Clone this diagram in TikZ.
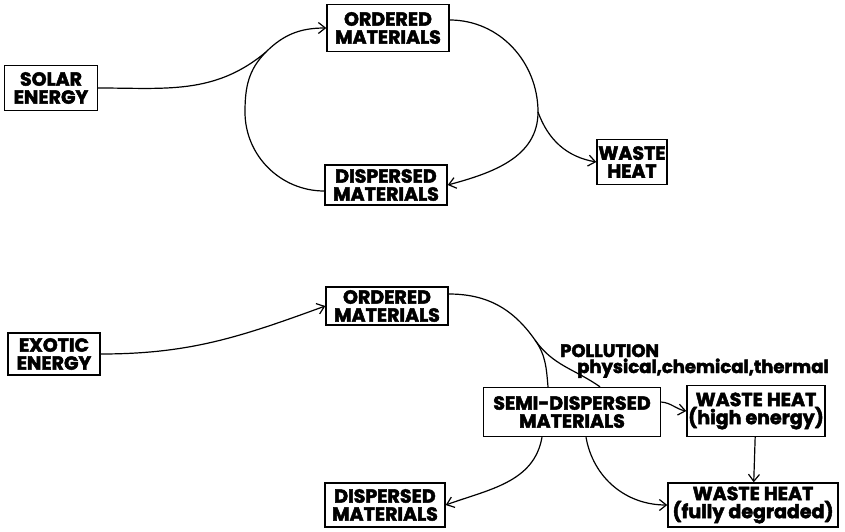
\documentclass[tikz,border=0pt]{standalone}
\usepackage{fontspec}
\setmainfont{Poppins}[BoldFeatures={FakeBold=2.4}]
\usepackage{tikz}
\usetikzlibrary{arrows.meta,positioning,calc}
\tikzset{
  enbox/.style={draw=black, line width=1.4pt, fill=white, align=center,
    font=\fontsize{19}{18}\selectfont\bfseries, inner sep=1pt},
  enline/.style={line width=1.2pt, draw=black},
  enarrow/.style={enline, -{Straight Barb[length=7pt, width=11pt, line width=1.2pt]}},
  ennote/.style={font=\fontsize{18}{18}\selectfont\bfseries, inner sep=0pt, anchor=base west}
}
\begin{document}
\begin{tikzpicture}[x=1pt,y=-1pt]
  \useasboundingbox (0,0) rectangle (845,532);
  % upper cycle: solar energy
  \node[enbox, minimum width=93pt, minimum height=45pt] (solar) at (51,88) {SOLAR\\ENERGY};
  \node[enbox, minimum width=122pt, minimum height=47pt] (ord) at (388,28) {ORDERED\\MATERIALS};
  \node[enbox, minimum width=122pt, minimum height=40pt] (disp) at (386,185) {DISPERSED\\MATERIALS};
  \node[enbox, minimum width=70pt, minimum height=45pt] (waste) at (632,162) {WASTE\\HEAT};
  \coordinate (jl) at (266,52);
  \coordinate (jr) at (538,112);
  \draw[enline] (solar.east) to[out=0, in=-140] (jl);
  \draw[enline] ([yshift=-6pt]disp.west) to[out=180, in=-90] (245,112) to[out=90, in=-135] (jl);
  \draw[enarrow] (jl) to[out=45, in=180] (ord.west);
  \draw[enline] ([yshift=8pt]ord.east) to[out=0, in=90] (jr);
  \draw[enarrow] (jr) to[out=-90, in=15] (disp.east);
  \draw[enarrow] (jr) to[out=-70, in=170] (waste.west);
  % lower chain: exotic energy
  \node[enbox, minimum width=92pt, minimum height=42pt] (exotic) at (54,354) {EXOTIC\\ENERGY};
  \node[enbox, minimum width=122pt, minimum height=38pt] (ordb) at (387,306) {ORDERED\\MATERIALS};
  \node[enbox, minimum width=177pt, minimum height=49pt] (semi) at (572,412) {SEMI-DISPERSED\\MATERIALS};
  \node[enbox, minimum width=138pt, minimum height=51pt] (heathi) at (756,411) {WASTE HEAT\\(high energy)};
  \node[enbox, minimum width=120pt, minimum height=44pt] (dispb) at (385,505) {DISPERSED\\MATERIALS};
  \node[enbox, minimum width=170pt, minimum height=44pt] (heatlo) at (753,505) {WASTE HEAT\\(fully degraded)};
  \node[ennote] (poll) at (560,357) {POLLUTION};
  \node[ennote] (kinds) at (577,373) {physical,chemical,thermal};
  \coordinate (jp) at (535,340);
  \draw[enarrow] (exotic.east) to[out=0, in=-160] (ordb.west);
  \draw[enline] ([yshift=12pt]ordb.east) to[out=0, in=125] (jp);
  \draw[enline] (jp) to[out=-55, in=145] ([xshift=28pt]semi.north);
  \draw[enline] (jp) to[out=-55, in=95] ([xshift=-24pt]semi.north);
  \draw[enarrow] ([yshift=10pt]semi.east) to[out=-5, in=170] (heathi.west);
  \draw[enarrow] (heathi) -- (heatlo);
  \draw[enarrow] ([xshift=-30pt]semi.south) to[out=-100, in=20] (dispb.east);
  \draw[enarrow] ([xshift=14pt]semi.south) to[out=-80, in=180] (heatlo.west);
\end{tikzpicture}
\end{document}
